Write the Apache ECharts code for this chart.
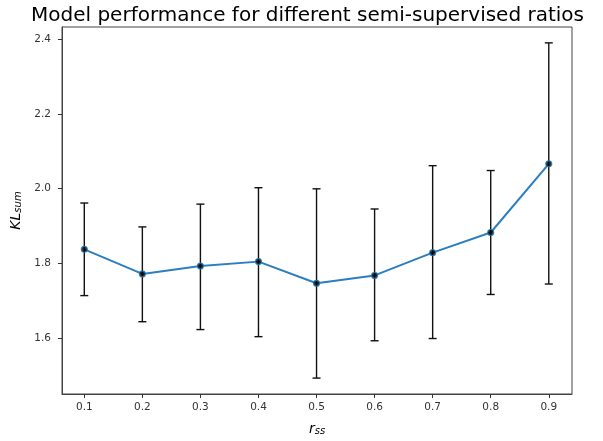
<!DOCTYPE html>
<html>
<head>
<meta charset="utf-8">
<script src="https://cdn.jsdelivr.net/npm/echarts@6/dist/echarts.min.js"></script>
<style>html,body{margin:0;padding:0;background:#fff}#c{width:603px;height:441px}</style>
</head>
<body>
<div id="c"></div>
<script>
const ratios = [0.1, 0.2, 0.3, 0.4, 0.5, 0.6, 0.7, 0.8, 0.9];
const klMean = [1.837, 1.771, 1.792, 1.804, 1.746, 1.767, 1.828, 1.882, 2.066];
const klUpper = [1.961, 1.897, 1.958, 2.002, 1.999, 1.945, 2.061, 2.048, 2.390];
const klLower = [1.713, 1.643, 1.622, 1.603, 1.492, 1.592, 1.598, 1.716, 1.744];
const xTicks = [0.1, 0.2, 0.3, 0.4, 0.5, 0.6, 0.7, 0.8, 0.9];
const yTicks = [1.6, 1.8, 2.0, 2.2, 2.4];

const font = 'DejaVu Sans';
const chart = echarts.init(document.getElementById('c'), null, {renderer: 'canvas'});

const meanData = ratios.map((r, i) => [r, klMean[i]]);
const errData = ratios.map((r, i) => [r, klLower[i], klUpper[i]]);

chart.setOption({
  animation: false,
  backgroundColor: '#ffffff',
  title: {
    text: 'Model performance for different semi-supervised ratios',
    left: 26,
    top: 1,
    textStyle: {fontFamily: font, fontSize: 20, fontWeight: 'normal', color: '#000'}
  },
  grid: {left: 62, right: 31, top: 27, bottom: 42, show: true, borderColor: '#444', borderWidth: 1},
  xAxis: {
    type: 'value', min: 0.0616, max: 0.940,
    axisLine: {show: true, lineStyle: {color: '#444', width: 1}},
    axisTick: {show: true, length: 4, lineStyle: {color: '#333'}, customValues: xTicks},
    axisLabel: {customValues: xTicks, fontFamily: font, fontSize: 10.5, color: '#333', margin: 8,
      formatter: v => v.toFixed(1)},
    splitLine: {show: false},
    name: '{a|r}{b|ss}', nameLocation: 'middle', nameGap: 26,
    nameTextStyle: {rich: {
      a: {fontFamily: font, fontStyle: 'italic', fontSize: 14, color: '#000', verticalAlign: 'bottom'},
      b: {fontFamily: font, fontStyle: 'italic', fontSize: 10, color: '#000', padding: [6, 0, 0, 0], verticalAlign: 'bottom'}
    }}
  },
  yAxis: {
    type: 'value', min: 1.4494, max: 2.4325,
    axisLine: {show: true, lineStyle: {color: '#444', width: 1}},
    axisTick: {show: true, length: 4, lineStyle: {color: '#333'}, customValues: yTicks},
    axisLabel: {customValues: yTicks, fontFamily: font, fontSize: 10.5, color: '#333', margin: 11,
      formatter: v => v.toFixed(1)},
    splitLine: {show: false},
    name: '{a|KL}{b|sum}', nameLocation: 'middle', nameGap: 28, nameRotate: 90,
    nameTextStyle: {rich: {
      a: {fontFamily: font, fontStyle: 'italic', fontSize: 14, color: '#000', verticalAlign: 'bottom'},
      b: {fontFamily: font, fontStyle: 'italic', fontSize: 10, color: '#000', padding: [6, 0, 0, 0], verticalAlign: 'bottom'}
    }}
  },
  series: [
    {
      type: 'line', data: meanData, z: 2, showSymbol: false, symbol: 'none',
      lineStyle: {color: '#2b7fc0', width: 2}
    },
    {
      type: 'custom', z: 3, data: errData,
      renderItem: function (params, api) {
        const x = api.value(0);
        const lo = api.coord([x, api.value(1)]);
        const hi = api.coord([x, api.value(2)]);
        const cw = 4;
        const style = {stroke: '#111', lineWidth: 1.4};
        return {
          type: 'group',
          children: [
            {type: 'line', shape: {x1: lo[0], y1: lo[1], x2: hi[0], y2: hi[1]}, style: style},
            {type: 'line', shape: {x1: lo[0] - cw, y1: lo[1], x2: lo[0] + cw, y2: lo[1]}, style: style},
            {type: 'line', shape: {x1: hi[0] - cw, y1: hi[1], x2: hi[0] + cw, y2: hi[1]}, style: style}
          ]
        };
      }
    },
    {
      type: 'scatter', data: meanData, z: 4, symbol: 'circle', symbolSize: 6,
      itemStyle: {color: '#000', borderColor: '#1f77b4', borderWidth: 1.2}
    }
  ]
});
</script>
</body>
</html>
